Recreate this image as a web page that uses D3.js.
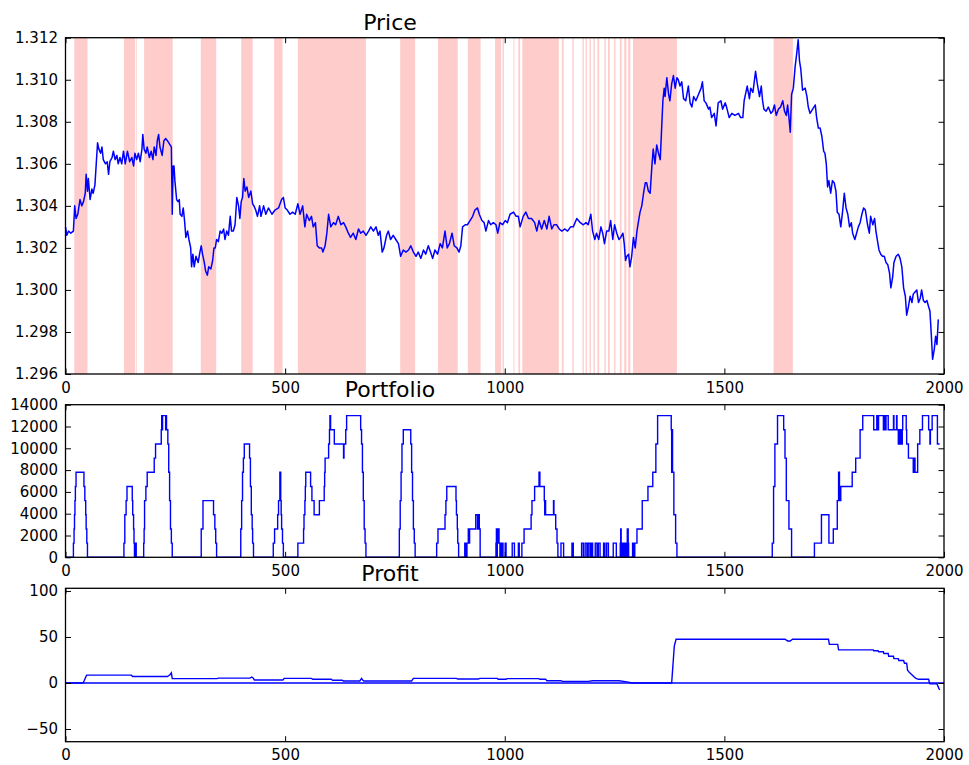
<!DOCTYPE html>
<html>
<head>
<meta charset="utf-8">
<script src="https://cdn.jsdelivr.net/npm/d3@7"></script>
<style>
  body { margin: 0; background: #fff; }
  text { font-family: "DejaVu Sans", sans-serif; }
</style>
</head>
<body>
<svg id="chart" width="969" height="765"></svg>
<script>
// DATA

let xTicks = [0, 500, 1000, 1500, 2000];
let priceTicks = [1.296, 1.298, 1.300, 1.302, 1.304, 1.306, 1.308, 1.310, 1.312];
let portfolioTicks = [0, 2000, 4000, 6000, 8000, 10000, 12000, 14000];
let profitTicks = [-50, 0, 50, 100];

// shaded spans (start, end) where a position was held
let holdSpans = [
  [20,50],[133,158],[160,162],[179,244],[308,343],[400,426],[475,494],[529,684],
  [762,796],[848,893],[916,945],[978,992],[995,998],[1020,1022],[1031,1035],
  [1040,1123],[1130,1134],[1154,1157],[1177,1180],[1184,1187],[1193,1196],
  [1202,1205],[1211,1215],[1227,1230],[1235,1239],[1249,1252],[1262,1266],
  [1272,1277],[1281,1286],[1292,1392],[1612,1656]
];

let price = [
  [0,1.3030],[3,1.3026],[7,1.3028],[12,1.3027],[18,1.3028],[21,1.3040],[24,1.3034],[28,1.3036],
  [33,1.3043],[37,1.3040],[41,1.3042],[45,1.3046],[47,1.3055],[50,1.3047],[52,1.3053],[56,1.3043],
  [60,1.3048],[63,1.3046],[67,1.3050],[70,1.3060],[73,1.3070],[76,1.3067],[80,1.3065],[83,1.3068],
  [86,1.3062],[91,1.3060],[95,1.3061],[98,1.3055],[101,1.3061],[106,1.3063],[109,1.3066],[113,1.3062],
  [117,1.3064],[120,1.3060],[124,1.3063],[128,1.3060],[132,1.3066],[136,1.3060],[141,1.3066],[146,1.3061],
  [151,1.3063],[155,1.3059],[158,1.3065],[162,1.3062],[166,1.3065],[170,1.3061],[174,1.3067],[176,1.3074],
  [179,1.3067],[183,1.3065],[186,1.3068],[191,1.3063],[195,1.3066],[199,1.3062],[202,1.3068],[206,1.3064],
  [209,1.3071],[212,1.3074],[215,1.3068],[220,1.3064],[224,1.3071],[228,1.3072],[232,1.3071],[238,1.3069],
  [241,1.3068],[243,1.3036],[245,1.3059],[247,1.3059],[249,1.3052],[253,1.3043],[256,1.3042],[259,1.3043],
  [261,1.3036],[265,1.3035],[268,1.3039],[271,1.3033],[274,1.3025],[278,1.3028],[281,1.3024],[285,1.3020],
  [287,1.3011],[290,1.3017],[293,1.3011],[297,1.3016],[302,1.3013],[306,1.3018],[309,1.3021],[312,1.3017],
  [316,1.3013],[319,1.3009],[323,1.3007],[326,1.3011],[331,1.3010],[335,1.3014],[338,1.3020],[341,1.3020],
  [344,1.3024],[348,1.3023],[352,1.3028],[356,1.3027],[360,1.3029],[363,1.3024],[367,1.3028],[371,1.3026],
  [375,1.3035],[378,1.3028],[382,1.3028],[386,1.3031],[390,1.3044],[394,1.3040],[397,1.3034],[400,1.3042],
  [403,1.3044],[406,1.3053],[409,1.3047],[413,1.3049],[417,1.3044],[422,1.3047],[426,1.3041],[429,1.3040],
  [433,1.3038],[437,1.3035],[442,1.3040],[445,1.3035],[451,1.3040],[456,1.3036],[462,1.3039],[470,1.3036],
  [477,1.3038],[485,1.3039],[492,1.3043],[496,1.3044],[500,1.3039],[505,1.3038],[511,1.3036],[517,1.3037],
  [523,1.3036],[529,1.3041],[534,1.3036],[540,1.3040],[545,1.3030],[549,1.3036],[555,1.3033],[560,1.3035],
  [564,1.3030],[569,1.3032],[573,1.3021],[578,1.3020],[583,1.3020],[586,1.3018],[591,1.3021],[595,1.3027],
  [599,1.3036],[604,1.3030],[610,1.3032],[615,1.3031],[621,1.3035],[627,1.3031],[633,1.3032],[638,1.3030],
  [644,1.3027],[649,1.3025],[655,1.3027],[661,1.3024],[667,1.3029],[672,1.3027],[678,1.3028],[684,1.3026],
  [690,1.3028],[695,1.3030],[701,1.3028],[707,1.3030],[712,1.3026],[716,1.3028],[721,1.3018],[725,1.3020],
  [731,1.3026],[735,1.3028],[740,1.3024],[746,1.3026],[752,1.3024],[758,1.3022],[763,1.3016],[769,1.3019],
  [775,1.3018],[781,1.3019],[786,1.3021],[792,1.3018],[798,1.3016],[803,1.3018],[809,1.3015],[815,1.3019],
  [820,1.3017],[826,1.3021],[831,1.3018],[836,1.3015],[841,1.3019],[847,1.3017],[853,1.3022],[858,1.3020],
  [864,1.3028],[869,1.3020],[874,1.3022],[880,1.3027],[885,1.3021],[891,1.3020],[896,1.3018],[900,1.3021],
  [904,1.3030],[910,1.3031],[915,1.3031],[921,1.3033],[927,1.3035],[932,1.3038],[938,1.3039],[942,1.3036],
  [948,1.3033],[953,1.3032],[957,1.3028],[963,1.3033],[968,1.3031],[974,1.3032],[980,1.3031],[984,1.3027],
  [989,1.3032],[995,1.3031],[1001,1.3033],[1006,1.3032],[1012,1.3036],[1020,1.3037],[1026,1.3035],[1031,1.3035],
  [1035,1.3030],[1042,1.3035],[1048,1.3037],[1054,1.3034],[1061,1.3034],[1068,1.3032],[1073,1.3028],[1078,1.3033],
  [1084,1.3029],[1090,1.3033],[1096,1.3029],[1101,1.3035],[1107,1.3029],[1112,1.3031],[1118,1.3031],[1124,1.3029],
  [1130,1.3028],[1137,1.3029],[1143,1.3028],[1150,1.3030],[1156,1.3030],[1164,1.3034],[1172,1.3032],[1179,1.3031],
  [1185,1.3032],[1190,1.3031],[1196,1.3036],[1200,1.3028],[1205,1.3024],[1209,1.3027],[1214,1.3024],[1219,1.3030],
  [1223,1.3027],[1227,1.3022],[1232,1.3028],[1237,1.3028],[1241,1.3033],[1246,1.3024],[1250,1.3031],[1255,1.3027],
  [1260,1.3024],[1264,1.3025],[1269,1.3027],[1272,1.3022],[1275,1.3014],[1278,1.3016],[1282,1.3017],[1285,1.3011],
  [1289,1.3016],[1293,1.3025],[1297,1.3020],[1301,1.3028],[1304,1.3032],[1308,1.3037],[1312,1.3040],[1316,1.3046],
  [1320,1.3051],[1323,1.3051],[1327,1.3047],[1331,1.3046],[1335,1.3059],[1338,1.3067],[1342,1.3060],[1346,1.3069],
  [1350,1.3065],[1354,1.3062],[1357,1.3076],[1360,1.3090],[1363,1.3096],[1365,1.3092],[1369,1.3101],[1373,1.3093],
  [1376,1.3090],[1380,1.3098],[1384,1.3102],[1388,1.3096],[1392,1.3101],[1395,1.3100],[1399,1.3097],[1403,1.3099],
  [1407,1.3091],[1412,1.3090],[1418,1.3097],[1422,1.3089],[1426,1.3087],[1430,1.3092],[1435,1.3090],[1441,1.3093],
  [1447,1.3096],[1450,1.3099],[1454,1.3090],[1458,1.3089],[1464,1.3086],[1467,1.3087],[1471,1.3082],[1477,1.3084],
  [1481,1.3078],[1486,1.3089],[1492,1.3090],[1496,1.3086],[1502,1.3089],[1505,1.3087],[1511,1.3082],[1517,1.3084],
  [1524,1.3083],[1532,1.3084],[1537,1.3082],[1542,1.3082],[1545,1.3090],[1549,1.3094],[1552,1.3097],[1557,1.3091],
  [1560,1.3096],[1565,1.3094],[1568,1.3099],[1571,1.3104],[1575,1.3098],[1580,1.3092],[1584,1.3097],[1587,1.3090],
  [1590,1.3086],[1595,1.3085],[1600,1.3087],[1606,1.3084],[1610,1.3085],[1614,1.3088],[1618,1.3083],[1623,1.3086],
  [1628,1.3087],[1633,1.3090],[1637,1.3085],[1641,1.3083],[1644,1.3088],[1647,1.3082],[1650,1.3075],[1653,1.3093],
  [1657,1.3096],[1661,1.3106],[1665,1.3113],[1668,1.3119],[1671,1.3109],[1674,1.3105],[1678,1.3095],[1684,1.3096],
  [1688,1.3092],[1691,1.3087],[1695,1.3084],[1701,1.3086],[1707,1.3088],[1710,1.3082],[1714,1.3077],[1718,1.3077],
  [1722,1.3073],[1726,1.3066],[1729,1.3065],[1732,1.3060],[1735,1.3049],[1738,1.3052],[1742,1.3046],[1746,1.3052],
  [1750,1.3051],[1754,1.3047],[1757,1.3037],[1761,1.3036],[1765,1.3030],[1769,1.3037],[1773,1.3046],[1777,1.3039],
  [1781,1.3036],[1785,1.3030],[1789,1.3032],[1792,1.3027],[1797,1.3024],[1801,1.3027],[1805,1.3030],[1809,1.3032],
  [1813,1.3036],[1817,1.3039],[1821,1.3038],[1826,1.3031],[1830,1.3027],[1833,1.3035],[1838,1.3031],[1842,1.3034],
  [1845,1.3028],[1848,1.3024],[1852,1.3019],[1856,1.3017],[1860,1.3016],[1864,1.3016],[1868,1.3013],[1872,1.3012],
  [1876,1.3008],[1879,1.3001],[1883,1.3006],[1886,1.3013],[1891,1.3016],[1896,1.3017],[1900,1.3015],[1904,1.3011],
  [1908,1.3001],[1912,1.2997],[1915,1.2988],[1919,1.2992],[1923,1.2997],[1927,1.2994],[1930,1.2998],[1934,1.2999],
  [1938,1.3000],[1942,1.2994],[1946,1.2996],[1949,1.3000],[1953,1.2995],[1957,1.2994],[1961,1.2995],[1965,1.2992],
  [1968,1.2990],[1971,1.2979],[1974,1.2967],[1978,1.2972],[1981,1.2978],[1984,1.2974],[1987,1.2986]
];

// portfolio value, each pair holds until the next one
let portfolio = [
  [0,0],[18,1300],[19.5,2600],[20.5,3900],[21.5,5200],[22.5,6500],[24,7800],[42,6500],[44,5200],
  [46,3900],[47,2600],[48.5,1300],[50,0],
  [133,1300],[135,3900],[138,5200],[140,6500],[152,5200],[153,3900],[155,2600],[156,1300],[157,0],
  [158.5,1300],[161,0],
  [178,1300],[179,2600],[180,5200],[183,6500],[186,7800],[202,9100],[205,10400],[218,11700],[219,13000],
  [220,11700],[221,13000],[228,11700],[229,13000],[230,11700],[233,10400],[235,7800],[237,5200],
  [239,2600],[241,1300],[243,0],
  [309,2600],[313,5200],[337,3900],[340,2600],[342,1300],[344,0],
  [399,2600],[401,5200],[403,7800],[405,9100],[407,10400],[419,9100],[421,6500],[423,3900],[425,2600],
  [426,1300],[428,0],
  [473,1300],[476,2600],[483,3900],[485,5200],[488,7800],[490,5200],[491,3900],[492,2600],[494,1300],[496,0],
  [529,1300],[542,2600],[543,3900],[545,5200],[546,6500],[547,7800],[558,6500],[561,5200],[566,3900],
  [578,5200],[589,6500],[590,7800],[591,9100],[599,10400],[601,11700],[602,13000],[603.5,11700],
  [612,10400],[633,9100],[634,10400],[638,11700],[640,13000],[672,11700],[674,10400],[676,7800],
  [678,5200],[680,2600],[682,1300],[684,0],
  [760,2600],[762,5200],[764,7800],[766,10400],[769,11700],[786,10400],[788,7800],[790,5200],[792,2600],
  [794,1300],[796,0],
  [845,1300],[848,2600],[864,3900],[866,5200],[868,6500],[889,5200],[890,3900],[892,2600],[893,1300],[895,0],
  [909,1300],[910,0],[911,1300],[913,0],[914,1300],[917,2600],[919,1300],[920,2600],[934,3900],[938,2600],
  [939,3900],[942,2600],[944,0],
  [980,1300],[981,2600],[982,0],[983,2600],[984,1300],[985,2600],[987,1300],[989,0],[990,1300],[992,0],
  [994,1300],[996,0],[1001,1300],[1003,0],[1017,1300],[1022,0],[1031,1300],[1033,0],
  [1039,1300],[1044,2600],[1060,3900],[1062,5200],[1068,6500],[1078,7800],[1080,6500],[1090,5200],
  [1091,3900],[1092,5200],[1093,3900],[1111,5200],[1112,3900],[1116,2600],[1119,1300],[1121,0],
  [1128,1300],[1134,0],[1153,1300],[1156,0],[1175,1300],[1179,0],[1183,1300],[1187,0],[1190,1300],[1194,0],
  [1197,1300],[1200,0],[1206,1300],[1210,0],[1213,1300],[1217,0],[1225,1300],[1228,0],[1232,1300],[1236,0],
  [1247,1300],[1254,0],[1263,1300],[1264,2600],[1265,1300],[1266,0],[1267,1300],[1269,0],[1270,1300],
  [1272,0],[1273,1300],[1275,0],[1276,1300],[1278,0],[1279,2600],[1281,1300],[1282,0],
  [1291,1300],[1294,0],[1296,1300],[1301,2600],[1313,5200],[1326,6500],[1337,7800],[1344,10400],
  [1348,13000],[1379,11700],[1380,7800],[1381,11700],[1382,7800],[1385,3900],[1389,1300],[1392,0],
  [1609,1300],[1612,6500],[1615,10400],[1621,13000],[1635,11700],[1638,9100],[1641,5200],[1647,2600],[1653,0],
  [1705,1300],[1721,3900],[1738,1300],[1748,2600],[1757,5200],[1760,7800],[1762,5200],[1765,6500],
  [1791,7800],[1799,9100],[1809,11700],[1815,13000],[1840,11700],[1847,13000],[1849,11700],[1851,13000],
  [1862,11700],[1864,13000],[1866,11700],[1868,13000],[1873,11700],[1885,13000],[1886,11700],[1892,13000],
  [1893,11700],[1896,10400],[1898,11700],[1900,10400],[1901,11700],[1903,10400],[1905,11700],[1906,13000],
  [1914,11700],[1915,10400],[1919,9100],[1930,7800],[1933,9100],[1934,7800],[1940,10400],[1945,11700],
  [1951,13000],[1965,11700],[1968,10400],[1969,11700],[1973,13000],[1985,10400],[1990,10400]
];

let profit = [
  [0,0],[40,0],[43,3],[48,8.5],[150,8.5],[153,7],[232,7],[238,9],[241,11],[243,4.7],[345,4.7],[348,5.3],
  [420,5.3],[424,6.5],[427,5.5],[430,3.3],[495,3.3],[498,5],[560,5],[563,4],[605,4],[608,2.9],[630,2.9],
  [633,2.2],[670,2.2],[674,5],[677,3],[679,2.2],[788,2.2],[792,5],[890,5],[893,4.3],[940,4.3],[943,5],
  [983,5],[985,4],[1003,4],[1005,4.7],[1077,4.7],[1080,4],[1093,4],[1096,2.5],[1128,2.5],[1131,1.8],
  [1190,1.8],[1200,2.5],[1260,2.5],[1278,1.2],[1290,0],[1380,0],[1383,20],[1386,40],[1390,47.5],
  [1638,47.5],[1644,45.7],[1650,45.7],[1655,47.5],[1737,47.5],[1739,42],[1758,42],[1760,36],[1839,36],
  [1840,35],[1850,35],[1851,34],[1862,34],[1863,32],[1873,32],[1874,29],[1885,29],[1886,26.5],[1896,26.5],
  [1897,24.5],[1908,24.5],[1910,21.5],[1915,21.5],[1917,14],[1922,11],[1927,9],[1931,7],[1936,5],
  [1942,4],[1965,4],[1967,0],[1968,-1],[1984,-1],[1990,-7.6]
];

let profitBase = [[0,0],[2000,0]];

// LAYOUT

let left = 65.5;
let right = 944;
let titleX = 390;

let svg = d3.select("#chart");

let x = d3.scaleLinear()
    .domain([0, 2000])
    .range([left, right]);

// one framed panel with inward ticks on all four sides
function appendPanel(top, bottom, yDomain, yTicks, yFormat, title) {
  let y = d3.scaleLinear()
      .domain(yDomain)
      .range([bottom, top]);

  let root = svg.append("g");

  let marks = root.append("g")
      .attr("class", "marks");

  let axes = root.append("g")
      .attr("class", "axes");

  let styleAxis = g => {
    g.select(".domain").remove();
    g.attr("font-size", 15)
        .attr("font-family", "'DejaVu Sans', sans-serif");
    g.selectAll("line")
        .attr("stroke", "#000")
        .attr("stroke-width", 1);
    g.selectAll("text")
        .attr("fill", "#000");
  };

  // bottom
  axes.append("g")
      .attr("transform", `translate(0,${bottom})`)
      .call(d3.axisBottom(x).tickValues(xTicks).tickSize(-5.5).tickPadding(7.9).tickFormat(d3.format("d")))
      .call(styleAxis);

  // top
  axes.append("g")
      .attr("transform", `translate(0,${top})`)
      .call(d3.axisTop(x).tickValues(xTicks).tickSize(-5.5).tickFormat(""))
      .call(styleAxis);

  // left
  axes.append("g")
      .attr("transform", `translate(${left},0)`)
      .call(d3.axisLeft(y).tickValues(yTicks).tickSize(-5.5).tickPadding(7.5).tickFormat(yFormat))
      .call(styleAxis);

  // right
  axes.append("g")
      .attr("transform", `translate(${right},0)`)
      .call(d3.axisRight(y).tickValues(yTicks).tickSize(-5.5).tickFormat(""))
      .call(styleAxis);

  // frame
  axes.append("rect")
      .attr("x", left)
      .attr("y", top)
      .attr("width", right - left)
      .attr("height", bottom - top)
      .attr("fill", "none")
      .attr("stroke", "#000")
      .attr("stroke-width", 1.3);

  // title
  axes.append("text")
      .attr("x", titleX)
      .attr("y", top - 7.6)
      .attr("text-anchor", "middle")
      .attr("font-size", 22)
      .text(title);

  return {marks, y};
}

function lineOf(y, curve) {
  return d3.line()
      .x(d => x(d[0]))
      .y(d => y(d[1]))
      .curve(curve || d3.curveLinear);
}

// PRICE

let pricePanel = appendPanel(37.7, 374, [1.296, 1.312], priceTicks, d3.format(".3f"), "Price");

pricePanel.marks.selectAll("rect.span")
    .data(holdSpans)
  .enter().append("rect")
    .attr("class", "span")
    .attr("x", d => x(d[0]))
    .attr("y", pricePanel.y(1.312))
    .attr("width", d => x(d[1]) - x(d[0]))
    .attr("height", pricePanel.y(1.296) - pricePanel.y(1.312))
    .attr("fill", "#ffcccc");

pricePanel.marks.append("path")
    .attr("d", lineOf(pricePanel.y)(price))
    .attr("fill", "none")
    .attr("stroke", "#0000ff")
    .attr("stroke-width", 1.5)
    .attr("stroke-linejoin", "round");

// PORTFOLIO

let portfolioPanel = appendPanel(404.7, 557.3, [0, 14000], portfolioTicks, d3.format("d"), "Portfolio");

portfolioPanel.marks.append("path")
    .attr("d", lineOf(portfolioPanel.y, d3.curveStepAfter)(portfolio))
    .attr("fill", "none")
    .attr("stroke", "#0000ff")
    .attr("stroke-width", 1.4);

// PROFIT

let profitPanel = appendPanel(588.3, 741.7, [-63.8, 102.9], profitTicks, d3.format("d"), "Profit");

profitPanel.marks.append("path")
    .attr("d", lineOf(profitPanel.y)(profitBase))
    .attr("fill", "none")
    .attr("stroke", "#0000ff")
    .attr("stroke-width", 1.4);

profitPanel.marks.append("path")
    .attr("d", lineOf(profitPanel.y)(profit))
    .attr("fill", "none")
    .attr("stroke", "#0000ff")
    .attr("stroke-width", 1.4);
</script>
</body>
</html>
